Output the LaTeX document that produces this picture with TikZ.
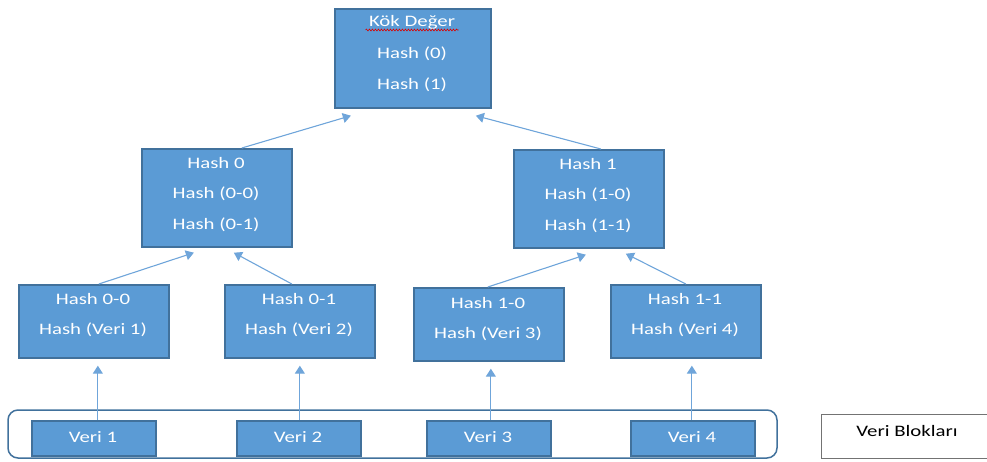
\documentclass[tikz,border=0pt]{standalone}
\usepackage{fontspec}
\setmainfont{Carlito}[FakeStretch=1.3]
\usetikzlibrary{arrows.meta,decorations.pathmorphing}
\definecolor{boxfill}{HTML}{5B9BD5}
\definecolor{boxline}{HTML}{41719C}
\definecolor{linkc}{HTML}{6FA5DA}
\begin{document}
\begin{tikzpicture}[x=1pt,y=-1pt,
  hbox/.style={draw=boxline,line width=1.7pt,fill=boxfill,
    inner sep=0pt,anchor=north west},
  link/.style={draw=linkc,line width=1.1pt,-{Triangle[width=10pt,length=8pt]}},
  txt/.style={text=white,font=\fontsize{16}{16}\selectfont}
]
\useasboundingbox (0,0) rectangle (987,461);

% hash tree boxes
\node[hbox,minimum width=156,minimum height=99] (root) at (334,8) {};
\node[txt] (rootA) at (412,22) {Kök Değer};
\node[txt] at (412,54) {Hash (0)};
\node[txt] at (412,85) {Hash (1)};
\draw[red!85!black,line width=0.6pt,decorate,decoration={snake,amplitude=0.9pt,segment length=3pt}]
  ([yshift=-8]rootA.west) -- ([yshift=-8]rootA.east);

\node[hbox,minimum width=150,minimum height=98] (h0) at (141,148) {};
\node[txt] at (216,163) {Hash 0};
\node[txt] at (216,194) {Hash (0-0)};
\node[txt] at (216,225) {Hash (0-1)};

\node[hbox,minimum width=150,minimum height=98] (h1) at (513,149) {};
\node[txt] at (588,164) {Hash 1};
\node[txt] at (588,195) {Hash (1-0)};
\node[txt] at (588,226) {Hash (1-1)};

\node[hbox,minimum width=150,minimum height=73] (h00) at (18,284) {};
\node[txt] at (93,299) {Hash 0-0};
\node[txt] at (93,330) {Hash (Veri 1)};

\node[hbox,minimum width=150,minimum height=73] (h01) at (224,284) {};
\node[txt] at (299,299) {Hash 0-1};
\node[txt] at (299,330) {Hash (Veri 2)};

\node[hbox,minimum width=150,minimum height=73] (h10) at (413,287) {};
\node[txt] at (488,303) {Hash 1-0};
\node[txt] at (488,334) {Hash (Veri 3)};

\node[hbox,minimum width=150,minimum height=73] (h11) at (610,284) {};
\node[txt] at (685,299) {Hash 1-1};
\node[txt] at (685,330) {Hash (Veri 4)};

% data blocks
\draw[boxline,line width=1.5pt,rounded corners=10] (8,410) rectangle (777,458);
\node[hbox,minimum width=124,minimum height=35] (v1) at (31,420) {};
\node[txt] at (93,437) {Veri 1};
\node[hbox,minimum width=124,minimum height=35] (v2) at (236,420) {};
\node[txt] at (298,437) {Veri 2};
\node[hbox,minimum width=124,minimum height=35] (v3) at (426,420) {};
\node[txt] at (488,437) {Veri 3};
\node[hbox,minimum width=124,minimum height=35] (v4) at (630,420) {};
\node[txt] at (692,437) {Veri 4};

\node[draw=black!55,line width=1.2pt,minimum width=166,minimum height=44,anchor=north west,
  inner sep=0pt] (leg) at (821,414) {};
\node[font=\fontsize{16}{16}\selectfont] at (907,431) {Veri Blokları};

% connectors
\draw[link] ([xshift=25]h0.north) -- ([xshift=-62,yshift=-7]root.south);
\draw[link] ([xshift=12]h1.north) -- ([xshift=63,yshift=-7]root.south);
\draw[link] ([xshift=5]h00.north) -- ([xshift=-23,yshift=-5]h0.south);
\draw[link] ([xshift=-8]h01.north) -- ([xshift=17,yshift=-5]h0.south);
\draw[link] ([xshift=-1]h10.north) -- ([xshift=-3,yshift=-6]h1.south);
\draw[link] (h11.north) -- ([xshift=37,yshift=-5]h1.south);
\draw[link] ([xshift=4]v1.north) -- ([xshift=4,yshift=-7]h00.south);
\draw[link] ([xshift=1]v2.north) -- ([xshift=0,yshift=-7]h01.south);
\draw[link] ([xshift=2]v3.north) -- ([xshift=2,yshift=-7]h10.south);
\draw[link] ([xshift=-1]v4.north) -- ([xshift=6,yshift=-7]h11.south);
\end{tikzpicture}
\end{document}
